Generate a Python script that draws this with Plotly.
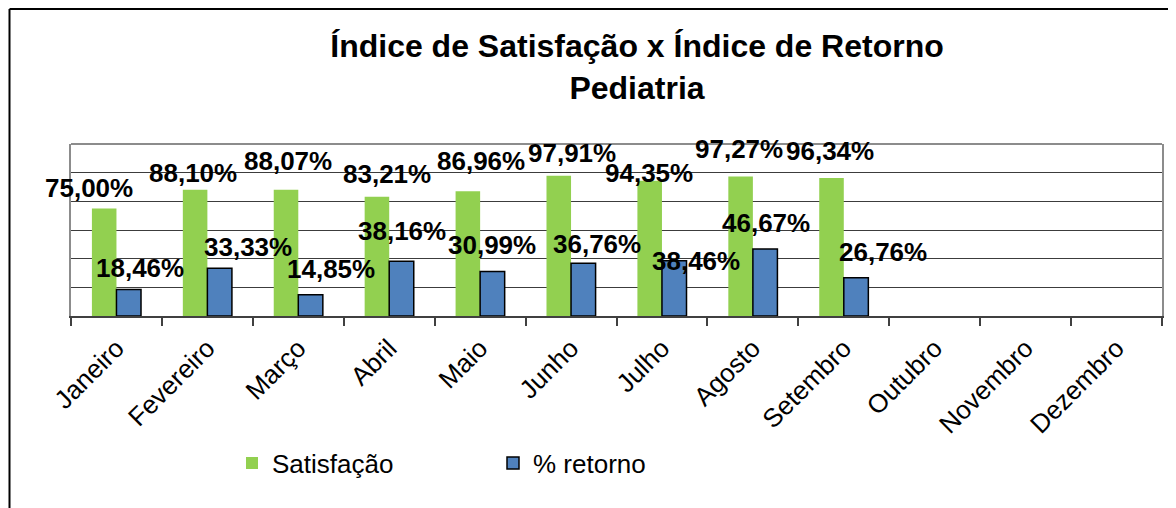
import plotly.graph_objects as go

# Dados
meses = ["Janeiro", "Fevereiro", "Março", "Abril", "Maio", "Junho",
         "Julho", "Agosto", "Setembro", "Outubro", "Novembro", "Dezembro"]
satisfacao = [75.00, 88.10, 88.07, 83.21, 86.96, 97.91, 94.35, 97.27, 96.34, None, None, None]
retorno = [18.46, 33.33, 14.85, 38.16, 30.99, 36.76, 38.46, 46.67, 26.76, None, None, None]

# deslocamento dos rótulos (px) em relação ao centro da categoria / topo da barra
sat_dx = [-27, -14, -10, -2, 1, 1, -13, -14, -14]
sat_dy = [21, 17, 29, 23, 30, 23, 8, 28, 27]
ret_dx = [24, 41, 33, 13, 12, 26, 34, 13, 39]
ret_dy = [22, 21, 26, 30, 27, 19, 0, 26, 26]

# a página tem margem de 8 px: todas as medidas em px da tela descontam OFF
OFF = 8
W, H = 1176 - OFF, 508 - OFF
ML, MR, MT, MB = 71 - OFF, 14, 144 - OFF, 192
PW, PH = W - ML - MR, H - MT - MB
FONT = "Liberation Sans, Arial, sans-serif"


def fx(px):
    return (px - OFF - ML) / PW


def fy(py):
    return (H - MB - (py - OFF)) / PH


def pct(v):
    return f"{v:.2f}%".replace(".", ",")


fig = go.Figure()
fig.add_trace(go.Bar(x=meses, y=satisfacao, name="Satisfação",
                     marker=dict(color="#92D050", line=dict(width=0))))
fig.add_trace(go.Bar(x=meses, y=retorno, name="% retorno",
                     marker=dict(color="#4F81BD", line=dict(color="#000000", width=1.5))))

# rótulos de dados
for i, v in enumerate(satisfacao):
    if v is None:
        continue
    fig.add_annotation(x=meses[i], y=v, text=pct(v), showarrow=False,
                       xshift=sat_dx[i], yshift=sat_dy[i], yanchor="middle",
                       font=dict(family=FONT, size=26, color="#000000", weight="bold"))
for i, v in enumerate(retorno):
    if v is None:
        continue
    fig.add_annotation(x=meses[i], y=v, text=pct(v), showarrow=False,
                       xshift=ret_dx[i], yshift=ret_dy[i], yanchor="middle",
                       font=dict(family=FONT, size=26, color="#000000", weight="bold"))

# moldura externa (cortada) e borda superior da área de plotagem
fig.add_shape(type="line", xref="paper", yref="paper", x0=fx(9.5), x1=fx(1180), y0=fy(9), y1=fy(9),
              line=dict(color="#000000", width=2))
fig.add_shape(type="line", xref="paper", yref="paper", x0=fx(9.5), x1=fx(9.5), y0=fy(9), y1=fy(512),
              line=dict(color="#000000", width=2))
fig.add_shape(type="line", xref="paper", yref="paper", x0=0, x1=1, y0=1, y1=1,
              line=dict(color="#8c8c8c", width=2))

fig.update_layout(
    width=W, height=H,
    margin=dict(l=ML, r=MR, t=MT, b=MB, autoexpand=False),
    paper_bgcolor="#ffffff", plot_bgcolor="#ffffff",
    barmode="group", bargap=0.46, bargroupgap=0,
    font=dict(family=FONT, color="#000000"),
    title=dict(text="Índice de Satisfação x Índice de Retorno<br>Pediatria",
               x=(637 - OFF) / W, xanchor="center", y=1 - (57 - OFF) / H, yanchor="middle",
               font=dict(family=FONT, size=32, color="#000000", weight="bold")),
    showlegend=True,
    legend=dict(orientation="h", x=fx(232), xanchor="left", y=fy(463), yanchor="middle",
                entrywidth=216, font=dict(family=FONT, size=26, color="#000000"),
                bgcolor="rgba(0,0,0,0)"),
)

fig.update_xaxes(type="category", range=[-0.5, len(meses) - 0.5], showgrid=False,
                 showline=True, linecolor="#404040", linewidth=1.5,
                 ticks="outside", tickson="boundaries", ticklen=8, tickcolor="#404040", tickwidth=1.5,
                 tickangle=-45, ticklabelstandoff=5, tickfont=dict(family=FONT, size=26, color="#000000"))
fig.update_yaxes(range=[0, 120], dtick=20, showticklabels=False, ticks="",
                 showgrid=True, gridcolor="#3c3c3c", gridwidth=1, zeroline=False,
                 showline=True, linecolor="#8c8c8c", linewidth=2, mirror=True)

fig.write_html("out.html")
